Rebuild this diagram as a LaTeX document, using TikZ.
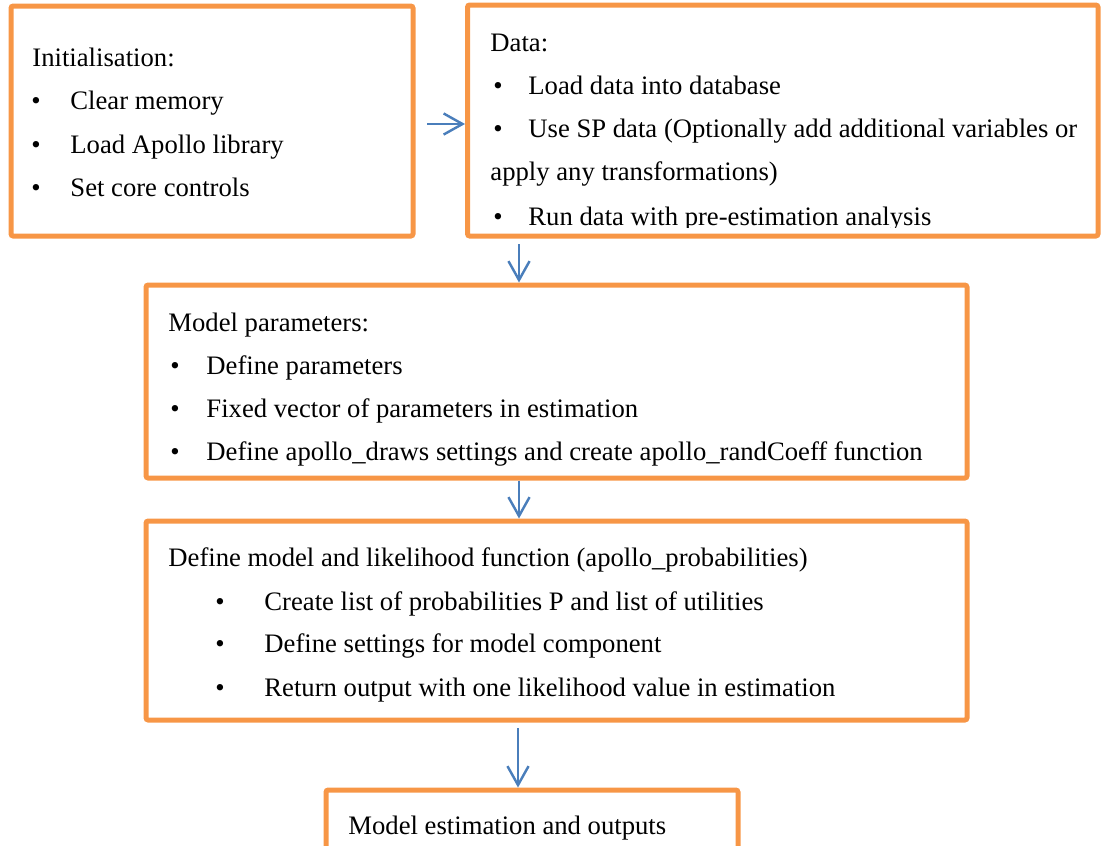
\documentclass[tikz,border=0pt]{standalone}
\usepackage{fontspec}
\setmainfont{Liberation Serif}
\usetikzlibrary{arrows.meta,fit}

\definecolor{boxorange}{HTML}{F79646}
\definecolor{flowblue}{HTML}{4A7EBB}

\tikzset{
  box/.style={draw=boxorange, line width=2.25pt, rounded corners=1pt, inner sep=0pt},
  txt/.style={anchor=base west, inner sep=0pt},
  flow/.style={draw=flowblue, line width=1.1pt, -{Straight Barb[length=8.5pt,width=9.5pt]}},
}

\begin{document}
\begin{tikzpicture}[x=0.45pt, y=-0.45pt, font=\fontsize{12}{14}\selectfont]
  \clip (0,0) rectangle (1102,845);

  % initialisation
  \node[txt] (ilab) at (32,66) {Initialisation:};
  \node[txt] (ib1) at (31,109) {\textbullet};
  \node[txt] (it1) at (70,109) {Clear memory};
  \node[txt] (ib2) at (31,153) {\textbullet};
  \node[txt] (it2) at (70,153) {Load Apollo library};
  \node[txt] (ib3) at (31,196) {\textbullet};
  \node[txt] (it3) at (70,196) {Set core controls};

  % data
  \node[txt] (dlab) at (490,51) {Data:};
  \node[txt] (db1) at (493,94) {\textbullet};
  \node[txt] (dt1) at (528,94) {Load data into database};
  \node[txt] (db2) at (493,137) {\textbullet};
  \node[txt] (dt2) at (528,137) {Use SP data (Optionally add additional variables or};
  \node[txt] (dt2b) at (490,180) {apply any transformations)};
  % last line runs past the text area
  \begin{scope}
    \clip (467,5) rectangle (1098,227);
    \node[txt] (db3) at (493,225) {\textbullet};
    \node[txt] (dt3) at (528,225) {Run data with pre-estimation analysis};
  \end{scope}

  % model parameters
  \node[txt] (plab) at (168,331) {Model parameters:};
  \node[txt] (pb1) at (170,374) {\textbullet};
  \node[txt] (pt1) at (206,374) {Define parameters};
  \node[txt] (pb2) at (170,417) {\textbullet};
  \node[txt] (pt2) at (206,417) {Fixed vector of parameters in estimation};
  \node[txt] (pb3) at (170,460) {\textbullet};
  \node[txt] (pt3) at (206,460) {Define apollo\_draws settings and create apollo\_randCoeff function};

  % model and likelihood
  \node[txt] (mlab) at (168,566) {Define model and likelihood function (apollo\_probabilities)};
  \node[txt] (mb1) at (215,610) {\textbullet};
  \node[txt] (mt1) at (264,610) {Create list of probabilities P and list of utilities};
  \node[txt] (mb2) at (215,652) {\textbullet};
  \node[txt] (mt2) at (264,652) {Define settings for model component};
  \node[txt] (mb3) at (215,696) {\textbullet};
  \node[txt] (mt3) at (264,696) {Return output with one likelihood value in estimation};

  % estimation
  \node[txt] (elab) at (348,834) {Model estimation and outputs};

  % boxes
  \node[box, fit={(11,6) (413,236)}] (init) {};
  \node[box, fit={(467.5,5) (1098,236)}] (data) {};
  \node[box, fit={(146,285) (967,478)}] (params) {};
  \node[box, fit={(146,521) (967,720)}] (model) {};
  \node[box, fit={(326,790) (738,900)}] (estim) {};

  % arrows
  \coordinate (a1) at (427,124);
  \coordinate (a2) at (519,244);
  \coordinate (a3) at (519,0);
  \coordinate (a4) at (518,728);
  \draw[flow] (a1) -- (a1 -| data.west);
  \draw[flow] (a2) -- (a2 |- params.north);
  \draw[flow] (params.south -| a3) -- (model.north -| a3);
  \draw[flow] (a4) -- (a4 |- estim.north);
\end{tikzpicture}
\end{document}
